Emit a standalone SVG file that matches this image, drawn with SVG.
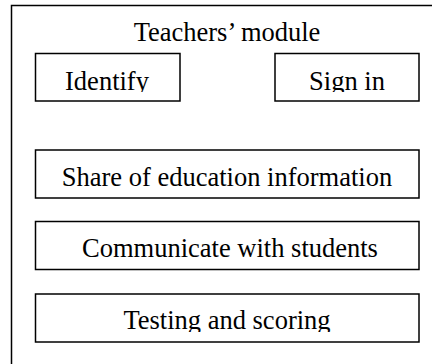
<svg xmlns="http://www.w3.org/2000/svg" width="432" height="364" viewBox="0 0 432 364">
<style>
.box{fill:#fff;stroke:#000;stroke-width:1.5}
.t{font-family:"Liberation Serif","Times New Roman",serif;font-size:26.5px;fill:#000;text-anchor:middle}
</style>
<defs>
<clipPath id="c1"><rect x="0" y="0" width="432" height="92"/></clipPath>
<clipPath id="c2"><rect x="0" y="0" width="432" height="332"/></clipPath>
</defs>
<rect width="432" height="364" fill="#fff"/>
<g id="module">
<path d="M11.5,364 V5.5 H432" fill="none" stroke="#000" stroke-width="1.5"/>
<text class="t" x="227" y="41">Teachers’ module</text>
</g>
<g id="identify">
<rect class="box" x="35.5" y="53.5" width="144.5" height="47.5"/>
<text class="t" x="107" y="89.5" clip-path="url(#c1)">Identify</text>
</g>
<g id="signin">
<rect class="box" x="275" y="53.5" width="144" height="47.5"/>
<text class="t" x="347" y="89.5" clip-path="url(#c1)">Sign in</text>
</g>
<g id="share">
<rect class="box" x="35.5" y="150" width="383.5" height="48"/>
<text class="t" x="227" y="185.5">Share of education information</text>
</g>
<g id="communicate">
<rect class="box" x="35.5" y="221.5" width="383.5" height="48"/>
<text class="t" x="230" y="257">Communicate with students</text>
</g>
<g id="testing">
<rect class="box" x="35.5" y="294" width="383.5" height="48"/>
<text class="t" x="227" y="329" clip-path="url(#c2)">Testing and scoring</text>
</g>
<g id="connectors"/>
</svg>
